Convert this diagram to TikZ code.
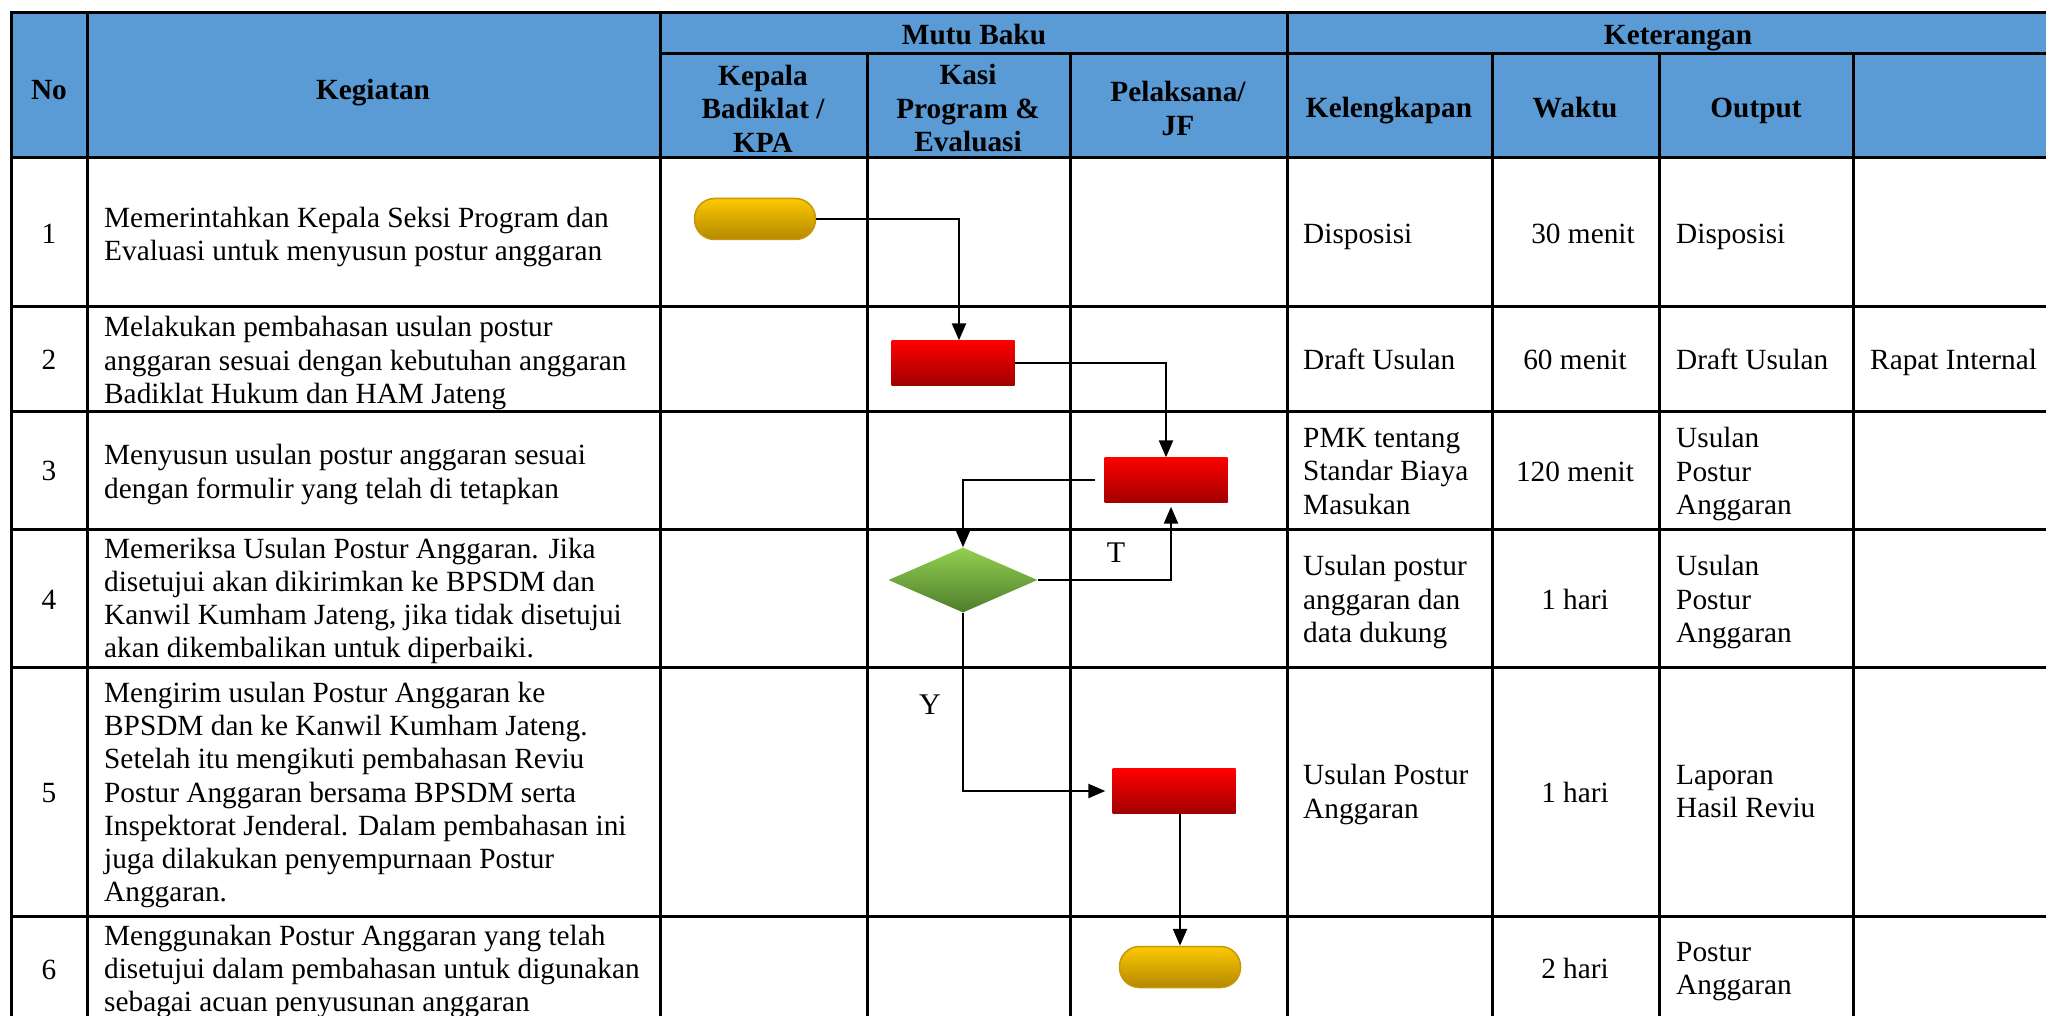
\documentclass[tikz,border=0pt]{standalone}
\usepackage{fontspec}
\setmainfont{Liberation Serif}
\usetikzlibrary{arrows.meta,shapes.geometric,calc}
\definecolor{hdr}{HTML}{5B9BD5}
\definecolor{goldtop}{HTML}{FBC900}
\definecolor{goldbot}{HTML}{B48800}
\definecolor{goldline}{HTML}{C8960A}
\definecolor{redtop}{HTML}{FF0000}
\definecolor{redbot}{HTML}{A00000}
\definecolor{greentop}{HTML}{92D050}
\definecolor{greenbot}{HTML}{4E7D2C}
\begin{document}
\begin{tikzpicture}[x=1pt,y=-1pt,
  grid/.style={line width=3pt, line cap=rect},
  conn/.style={line width=2.4pt, -{Triangle[length=17pt,width=14pt]}},
  body/.style={inner sep=0pt, align=left, font=\fontsize{29.3}{33.3}\selectfont},
  bodyc/.style={inner sep=0pt, align=center, font=\fontsize{29.3}{33.3}\selectfont},
  head/.style={inner sep=0pt, align=center, font=\bfseries\fontsize{29.3}{33.5}\selectfont},
  lbl/.style={inner sep=0pt, font=\fontsize{30}{32}\selectfont},
  term/.style={draw=goldline, line width=1.5pt, top color=goldtop, bottom color=goldbot,
    rounded corners=20pt, minimum width=121pt, minimum height=41pt, inner sep=0pt},
  proc/.style={top color=redtop, bottom color=redbot, minimum width=123pt,
    minimum height=45pt, inner sep=0pt},
  dec/.style={diamond, top color=greentop, bottom color=greenbot, minimum width=149pt,
    minimum height=65pt, inner sep=0pt}]
\useasboundingbox (0,0) rectangle (2046,1016);
\clip (0,0) rectangle (2046,1016);
% header background
\fill[hdr] (11,13) rectangle (2067,158);
% horizontal lines
\draw[grid] (11,13) -- (2067,13);
\draw[grid] (660,54) -- (2067,54);
\foreach \yy in {158,307,411,529,667,916}
  \draw[grid] (11,\yy) -- (2067,\yy);
% vertical lines
\foreach \xx in {11,87,660,1287}
  \draw[grid] (\xx,13) -- (\xx,1030);
\foreach \xx in {867,1070,1492,1659,1853}
  \draw[grid] (\xx,54) -- (\xx,1030);
% header texts
\node[head,anchor=base] (hno) at (49,100) {No};
\node[head,anchor=base] (hkeg) at (373,100) {Kegiatan};
\node[head,anchor=base] (hmutu) at (974,45) {Mutu Baku};
\node[head,anchor=base] (hket) at (1678,45) {Keterangan};
\node[head] (hkpa) at (763,108.5) {Kepala\\Badiklat /\\KPA};
\node[head] (hkasi) at (968,108.5) {Kasi\\Program \&\\Evaluasi};
\node[head] (hpel) at (1178,108.5) {Pelaksana/\\JF};
\node[head,anchor=base] (hkel) at (1389,118) {Kelengkapan};
\node[head,anchor=base] (hwak) at (1575,118) {Waktu};
\node[head,anchor=base] (hout) at (1756,118) {Output};
% numbers
\node[bodyc,anchor=base] (n1) at (49,244) {1};
\node[bodyc,anchor=base] (n2) at (49,370) {2};
\node[bodyc,anchor=base] (n3) at (49,480) {3};
\node[bodyc,anchor=base] (n4) at (49,609) {4};
\node[bodyc,anchor=base] (n5) at (49,802) {5};
\node[bodyc,anchor=base] (n6) at (49,979) {6};
% kegiatan
\node[body,anchor=west] (k1) at (104,237) {Memerintahkan Kepala Seksi Program dan\\Evaluasi untuk menyusun postur anggaran};
\node[body,anchor=west] (k2) at (104,363) {Melakukan pembahasan usulan postur\\anggaran sesuai dengan kebutuhan anggaran\\Badiklat Hukum dan HAM Jateng};
\node[body,anchor=west] (k3) at (104,474.5) {Menyusun usulan postur anggaran sesuai\\dengan formulir yang telah di tetapkan};
\node[body,anchor=west] (k4) at (104,601) {Memeriksa Usulan Postur Anggaran. Jika\\disetujui akan dikirimkan ke BPSDM dan\\Kanwil Kumham Jateng, jika tidak disetujui\\akan dikembalikan untuk diperbaiki.};
\node[body,anchor=west] (k5) at (104,795) {Mengirim usulan Postur Anggaran ke\\BPSDM dan ke Kanwil Kumham Jateng.\\Setelah itu mengikuti pembahasan Reviu\\Postur Anggaran bersama BPSDM serta\\Inspektorat Jenderal. Dalam pembahasan ini\\juga dilakukan penyempurnaan Postur\\Anggaran.};
\node[body,anchor=west] (k6) at (104,971.5) {Menggunakan Postur Anggaran yang telah\\disetujui dalam pembahasan untuk digunakan\\sebagai acuan penyusunan anggaran};
% kelengkapan
\node[body,anchor=base west] (l1) at (1303,244) {Disposisi};
\node[body,anchor=base west] (l2) at (1303,370) {Draft Usulan};
\node[body,anchor=west] (l3) at (1303,471.5) {PMK tentang\\Standar Biaya\\Masukan};
\node[body,anchor=west] (l4) at (1303,602) {Usulan postur\\anggaran dan\\data dukung};
\node[body,anchor=west] (l5) at (1303,794.5) {Usulan Postur\\Anggaran};
% waktu
\node[bodyc,anchor=base] (w1) at (1583,244) {30 menit};
\node[bodyc,anchor=base] (w2) at (1575,370) {60 menit};
\node[bodyc,anchor=base] (w3) at (1575,481) {120 menit};
\node[bodyc,anchor=base] (w4) at (1575,609) {1 hari};
\node[bodyc,anchor=base] (w5) at (1575,802) {1 hari};
\node[bodyc,anchor=base] (w6) at (1575,978) {2 hari};
% output
\node[body,anchor=base west] (o1) at (1676,244) {Disposisi};
\node[body,anchor=base west] (o2) at (1676,370) {Draft Usulan};
\node[body,anchor=west] (o3) at (1676,474) {Usulan\\Postur\\Anggaran};
\node[body,anchor=west] (o4) at (1676,602) {Usulan\\Postur\\Anggaran};
\node[body,anchor=west] (o5) at (1676,791.5) {Laporan\\Hasil Reviu};
\node[body,anchor=west] (o6) at (1676,971.5) {Postur\\Anggaran};
% last column
\node[body,anchor=base west] (x2) at (1870,370) {Rapat Internal};
% flow shapes
\node[term] (t1) at (755,219) {};
\node[proc] (r2) at (953,363) {};
\node[proc] (r3) at (1166,480) {};
\node[dec] (dm) at (963,580) {};
\node[proc] (r5) at (1174,791) {};
\node[term] (t6) at (1180,967) {};
% connectors
\draw[conn] (t1.east) -| ([xshift=6pt]r2.north);
\draw[conn] (r2.east) -| (r3.north);
\draw[conn, shorten <=9pt] (r3.west) -| (dm.north);
\draw[conn, shorten >=4pt] (dm.east) -| ([xshift=5pt]r3.south);
\draw[conn, shorten >=7pt] (dm.south) |- (r5.west);
\draw[conn] (t6.north |- r5.south) -- (t6.north);
% labels
\node[lbl,anchor=base] (lt) at (1116,562) {T};
\node[lbl,anchor=base] (ly) at (930,714) {Y};
\end{tikzpicture}
\end{document}
